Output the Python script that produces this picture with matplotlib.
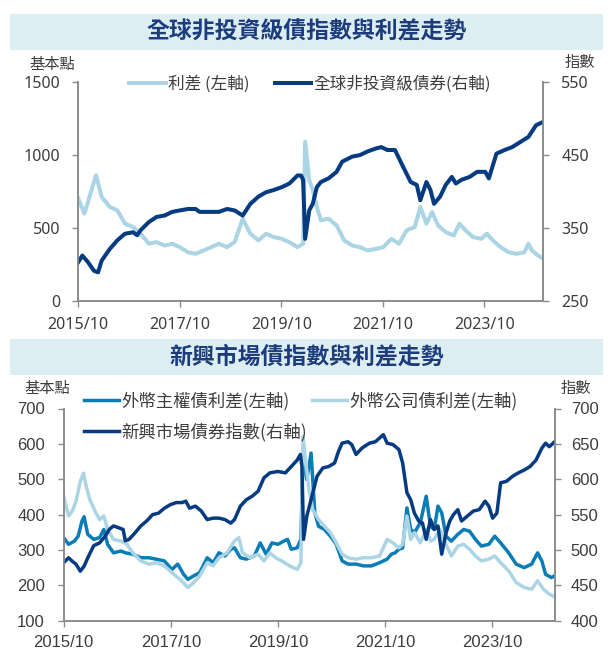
import matplotlib

matplotlib.use("Agg")

import matplotlib.pyplot as plt
from matplotlib.patches import Rectangle

CJK = ["Noto Sans CJK TC", "DejaVu Sans"]

X_TICKS = [2015.75, 2017.75, 2019.75, 2021.75, 2023.75]
X_LABELS = ["2015/10", "2017/10", "2019/10", "2021/10", "2023/10"]

# 全球非投資級債: 利差 (基本點) 與指數
gl_spread_x = [2015.75, 2015.87, 2016.10, 2016.21, 2016.37, 2016.52, 2016.67, 2016.83, 2016.98, 2017.14,
               2017.29, 2017.45, 2017.60, 2017.75, 2017.91, 2018.06, 2018.22, 2018.37, 2018.52, 2018.68,
               2018.83, 2018.99, 2019.14, 2019.30, 2019.45, 2019.60, 2019.76, 2019.91, 2020.07, 2020.18,
               2020.22, 2020.30, 2020.37, 2020.45, 2020.53, 2020.68, 2020.84, 2020.99, 2021.15, 2021.30,
               2021.45, 2021.61, 2021.76, 2021.92, 2022.07, 2022.22, 2022.38, 2022.49, 2022.61, 2022.72,
               2022.84, 2022.99, 2023.15, 2023.26, 2023.38, 2023.53, 2023.69, 2023.80, 2023.92, 2024.07,
               2024.23, 2024.38, 2024.54, 2024.62, 2024.69, 2024.81, 2024.92]
gl_spread = [701, 598, 862, 713, 644, 620, 529, 506, 460, 391,
             402, 379, 391, 368, 333, 322, 345, 368, 391, 368,
             402, 563, 460, 414, 460, 437, 425, 402, 368, 391,
             1092, 828, 759, 644, 552, 563, 517, 414, 379, 368,
             345, 356, 368, 425, 391, 483, 506, 644, 529, 609,
             517, 471, 448, 529, 483, 437, 425, 460, 414, 368,
             333, 322, 333, 391, 345, 310, 287]

gl_index_x = [2015.75, 2015.83, 2015.94, 2016.06, 2016.14, 2016.21, 2016.37, 2016.52, 2016.67, 2016.83,
              2016.91, 2016.98, 2017.14, 2017.29, 2017.45, 2017.60, 2017.75, 2017.91, 2018.06, 2018.14,
              2018.37, 2018.52, 2018.68, 2018.83, 2018.99, 2019.14, 2019.30, 2019.45, 2019.60, 2019.76,
              2019.91, 2020.07, 2020.14, 2020.18, 2020.22, 2020.30, 2020.37, 2020.45, 2020.53, 2020.68,
              2020.84, 2020.95, 2021.15, 2021.30, 2021.45, 2021.61, 2021.72, 2021.84, 2021.99, 2022.15,
              2022.30, 2022.42, 2022.49, 2022.61, 2022.69, 2022.76, 2022.88, 2022.99, 2023.11, 2023.19,
              2023.30, 2023.46, 2023.61, 2023.77, 2023.84, 2023.99, 2024.15, 2024.30, 2024.46, 2024.62,
              2024.77, 2024.92]
gl_index = [303, 312, 303, 291, 289, 305, 321, 333, 342, 344,
            340, 347, 358, 365, 367, 372, 374, 376, 376, 372,
            372, 372, 376, 374, 367, 383, 393, 399, 402, 406,
            411, 422, 422, 416, 335, 374, 383, 406, 413, 418,
            427, 441, 448, 450, 455, 459, 461, 457, 457, 434,
            413, 409, 388, 413, 402, 383, 393, 409, 420, 411,
            416, 420, 427, 427, 418, 452, 457, 461, 468, 475,
            491, 496]

# 新興市場債: 外幣主權債利差、外幣公司債利差 (基本點) 與指數
em_sov_x = [2015.75, 2015.84, 2015.95, 2016.02, 2016.09, 2016.13, 2016.20, 2016.31, 2016.42, 2016.50,
            2016.57, 2016.68, 2016.82, 2016.90, 2017.04, 2017.19, 2017.34, 2017.48, 2017.63, 2017.77,
            2017.88, 2017.99, 2018.07, 2018.18, 2018.29, 2018.43, 2018.54, 2018.65, 2018.76, 2018.87,
            2018.94, 2019.05, 2019.16, 2019.31, 2019.42, 2019.53, 2019.64, 2019.75, 2019.86, 2019.93,
            2020.00, 2020.11, 2020.18, 2020.22, 2020.29, 2020.37, 2020.44, 2020.51, 2020.62, 2020.73,
            2020.84, 2020.95, 2021.06, 2021.21, 2021.35, 2021.50, 2021.65, 2021.79, 2021.87, 2021.94,
            2022.01, 2022.08, 2022.16, 2022.23, 2022.30, 2022.41, 2022.52, 2022.60, 2022.67, 2022.74,
            2022.81, 2022.89, 2022.99, 2023.11, 2023.22, 2023.33, 2023.44, 2023.55, 2023.69, 2023.80,
            2023.91, 2024.06, 2024.20, 2024.35, 2024.49, 2024.60, 2024.68, 2024.75, 2024.86, 2024.92]
em_sov = [335, 316, 325, 339, 381, 394, 344, 330, 335, 358,
          316, 292, 297, 292, 288, 278, 278, 274, 269, 245,
          260, 231, 217, 227, 236, 278, 264, 292, 283, 302,
          306, 278, 274, 283, 320, 288, 320, 316, 325, 330,
          302, 306, 330, 574, 499, 574, 405, 367, 358, 339,
          316, 269, 260, 260, 255, 255, 264, 274, 288, 292,
          302, 306, 419, 358, 349, 377, 452, 367, 358, 424,
          405, 339, 325, 344, 358, 353, 330, 311, 316, 339,
          320, 292, 260, 250, 260, 292, 269, 231, 222, 227]

em_corp_x = [2015.75, 2015.84, 2015.91, 2015.98, 2016.06, 2016.12, 2016.17, 2016.24, 2016.35, 2016.42,
             2016.50, 2016.57, 2016.68, 2016.82, 2016.93, 2017.04, 2017.19, 2017.34, 2017.48, 2017.63,
             2017.77, 2017.92, 2018.07, 2018.18, 2018.29, 2018.43, 2018.54, 2018.65, 2018.80, 2018.94,
             2019.02, 2019.09, 2019.23, 2019.38, 2019.49, 2019.60, 2019.71, 2019.82, 2019.97, 2020.11,
             2020.18, 2020.22, 2020.26, 2020.33, 2020.40, 2020.51, 2020.62, 2020.73, 2020.84, 2020.95,
             2021.06, 2021.21, 2021.35, 2021.50, 2021.65, 2021.79, 2021.90, 2022.01, 2022.08, 2022.16,
             2022.23, 2022.30, 2022.41, 2022.52, 2022.60, 2022.67, 2022.78, 2022.89, 2022.99, 2023.11,
             2023.22, 2023.33, 2023.44, 2023.55, 2023.69, 2023.80, 2023.91, 2024.06, 2024.20, 2024.35,
             2024.49, 2024.60, 2024.71, 2024.82, 2024.92]
em_corp = [452, 396, 410, 438, 494, 517, 480, 442, 405, 386,
           396, 358, 330, 325, 316, 292, 269, 260, 264, 255,
           236, 217, 194, 208, 227, 264, 255, 278, 292, 325,
           335, 292, 278, 288, 269, 292, 278, 269, 255, 245,
           264, 621, 564, 471, 414, 386, 367, 349, 320, 288,
           278, 274, 278, 278, 283, 330, 320, 306, 316, 396,
           330, 349, 320, 358, 325, 330, 358, 316, 283, 311,
           316, 302, 283, 269, 274, 283, 264, 241, 208, 194,
           189, 213, 189, 175, 168]

em_index_x = [2015.75, 2015.84, 2015.91, 2015.98, 2016.06, 2016.13, 2016.20, 2016.31, 2016.42, 2016.53,
              2016.60, 2016.68, 2016.79, 2016.86, 2016.90, 2016.97, 2017.08, 2017.19, 2017.30, 2017.41,
              2017.52, 2017.63, 2017.74, 2017.85, 2017.96, 2018.03, 2018.10, 2018.21, 2018.32, 2018.43,
              2018.54, 2018.65, 2018.76, 2018.87, 2018.94, 2019.05, 2019.16, 2019.27, 2019.38, 2019.49,
              2019.60, 2019.75, 2019.89, 2020.00, 2020.11, 2020.17, 2020.20, 2020.23, 2020.29, 2020.37,
              2020.48, 2020.59, 2020.70, 2020.81, 2020.88, 2020.95, 2021.06, 2021.13, 2021.21, 2021.32,
              2021.46, 2021.57, 2021.72, 2021.79, 2021.90, 2022.01, 2022.08, 2022.16, 2022.23, 2022.30,
              2022.38, 2022.45, 2022.52, 2022.60, 2022.67, 2022.74, 2022.81, 2022.89, 2022.96, 2023.03,
              2023.11, 2023.18, 2023.29, 2023.40, 2023.51, 2023.62, 2023.69, 2023.76, 2023.84, 2023.91,
              2024.02, 2024.13, 2024.24, 2024.35, 2024.46, 2024.57, 2024.68, 2024.75, 2024.82, 2024.92]
em_index = [482, 489, 484, 480, 470, 477, 489, 506, 510, 520,
            529, 534, 531, 529, 513, 515, 524, 534, 541, 550,
            552, 559, 564, 567, 567, 569, 559, 562, 555, 543,
            545, 545, 543, 538, 543, 562, 571, 576, 583, 602,
            609, 611, 609, 618, 627, 635, 618, 515, 548, 571,
            604, 616, 618, 623, 639, 651, 653, 649, 635, 644,
            651, 653, 663, 651, 649, 642, 623, 581, 571, 552,
            541, 538, 515, 543, 529, 534, 494, 524, 541, 550,
            557, 541, 548, 555, 557, 569, 562, 545, 552, 595,
            597, 604, 609, 613, 618, 627, 644, 651, 646, 653]

NAVY = "#063b82"
MID_BLUE = "#0b7db6"
LIGHT_BLUE = "#abd5e4"
GRAY = "#8c8c8c"
TEXT = "#3d3d3d"
TITLE = "#1c3c7c"
BAND = "#ddeef2"

fig = plt.figure(figsize=(6.12, 6.5), dpi=100)


def style_axes(ax, ax2, tick_font, tick_size, lpad, rpad, bpad):
    for a in (ax, ax2):
        a.spines["top"].set_visible(False)
        for side in ("left", "right", "bottom"):
            a.spines[side].set_color(GRAY)
            a.spines[side].set_linewidth(1.2)
        a.tick_params(direction="out", length=4.5, width=1, color=GRAY,
                      labelcolor=TEXT, labelsize=tick_size)
        for lab in a.get_xticklabels() + a.get_yticklabels():
            lab.set_family(tick_font)
    ax.tick_params(axis="y", pad=lpad)
    ax2.tick_params(axis="y", pad=rpad)
    ax.tick_params(axis="x", pad=bpad)
    ax.set_xticks(X_TICKS)
    ax.set_xticklabels(X_LABELS, family=tick_font, size=tick_size)


# 標題色帶
for y0, title in [(1 - 50 / 650, "全球非投資級債指數與利差走勢"),
                  (1 - 375 / 650, "新興市場債指數與利差走勢")]:
    fig.patches.append(Rectangle((10 / 612, y0), 592.7 / 612, 36 / 650,
                                 transform=fig.transFigure, facecolor=BAND,
                                 edgecolor="none", zorder=0))
    fig.text(0.5006, y0 + 18 / 650, title, ha="center", va="center",
             family=CJK, weight="bold", size=16.5, color=TITLE)

# 上圖
ax1 = fig.add_axes([78.3 / 612, 1 - 300.7 / 650, 465 / 612, 218.4 / 650])
ax1b = ax1.twinx()
l1, = ax1.plot(gl_spread_x, gl_spread, color=LIGHT_BLUE, lw=2.9,
               label="利差 (左軸)")
l2, = ax1b.plot(gl_index_x, gl_index, color=NAVY, lw=2.9,
                label="全球非投資級債券(右軸)")
ax1.set_xlim(2015.75, 2024.913)
ax1.set_ylim(0, 1500)
ax1.set_yticks([0, 500, 1000, 1500])
ax1b.set_ylim(250, 550)
ax1b.set_yticks([250, 350, 450, 550])
style_axes(ax1, ax1b, ["Noto Sans", "DejaVu Sans"], 11.5, 8.5, 8.5, 7)
ax1.legend(handles=[l1, l2], loc="upper left",
           bbox_to_anchor=(129 / 612, 1 - 75.5 / 650),
           bbox_transform=fig.transFigure, ncol=2, frameon=False,
           prop={"family": CJK, "size": 12}, handlelength=2.2,
           handletextpad=0.15, columnspacing=1.5, borderpad=0,
           borderaxespad=0, labelcolor=TEXT)
fig.text(52.5 / 612, 1 - 64 / 650, "基本點", ha="center", va="center",
         family=CJK, size=11, color=TEXT)
fig.text(580 / 612, 1 - 63 / 650, "指數", ha="center", va="center",
         family=CJK, size=11, color=TEXT)

# 下圖
ax2 = fig.add_axes([63.7 / 612, 1 - 620.7 / 650, 491 / 612, 212.2 / 650])
ax2b = ax2.twinx()
m1, = ax2.plot(em_sov_x, em_sov, color=MID_BLUE, lw=2.5,
               label="外幣主權債利差(左軸)")
m2, = ax2.plot(em_corp_x, em_corp, color=LIGHT_BLUE, lw=2.5,
               label="外幣公司債利差(左軸)")
m3, = ax2b.plot(em_index_x, em_index, color=NAVY, lw=2.5,
                label="新興市場債券指數(右軸)")
ax2.set_xlim(2015.75, 2024.92)
ax2.set_ylim(100, 700)
ax2.set_yticks(range(100, 701, 100))
ax2b.set_ylim(400, 700)
ax2b.set_yticks(range(400, 701, 50))
style_axes(ax2, ax2b, ["Liberation Sans", "DejaVu Sans"], 12, 9, 7, 6)
ax2b.legend(handles=[m1, m3, m2], loc="upper left",
            bbox_to_anchor=(84 / 612, 1 - 392 / 650),
            bbox_transform=fig.transFigure, ncol=2, frameon=False,
            prop={"family": CJK, "size": 12.5}, handlelength=2.0,
            handletextpad=0.15, columnspacing=0.3, labelspacing=0.7,
            borderpad=0, borderaxespad=0, labelcolor=TEXT)
fig.text(47.5 / 612, 1 - 388 / 650, "基本點", ha="center", va="center",
         family=CJK, size=11, color=TEXT)
fig.text(576 / 612, 1 - 388 / 650, "指數", ha="center", va="center",
         family=CJK, size=11, color=TEXT)

fig.savefig("out.png", dpi=100)
plt.close(fig)
